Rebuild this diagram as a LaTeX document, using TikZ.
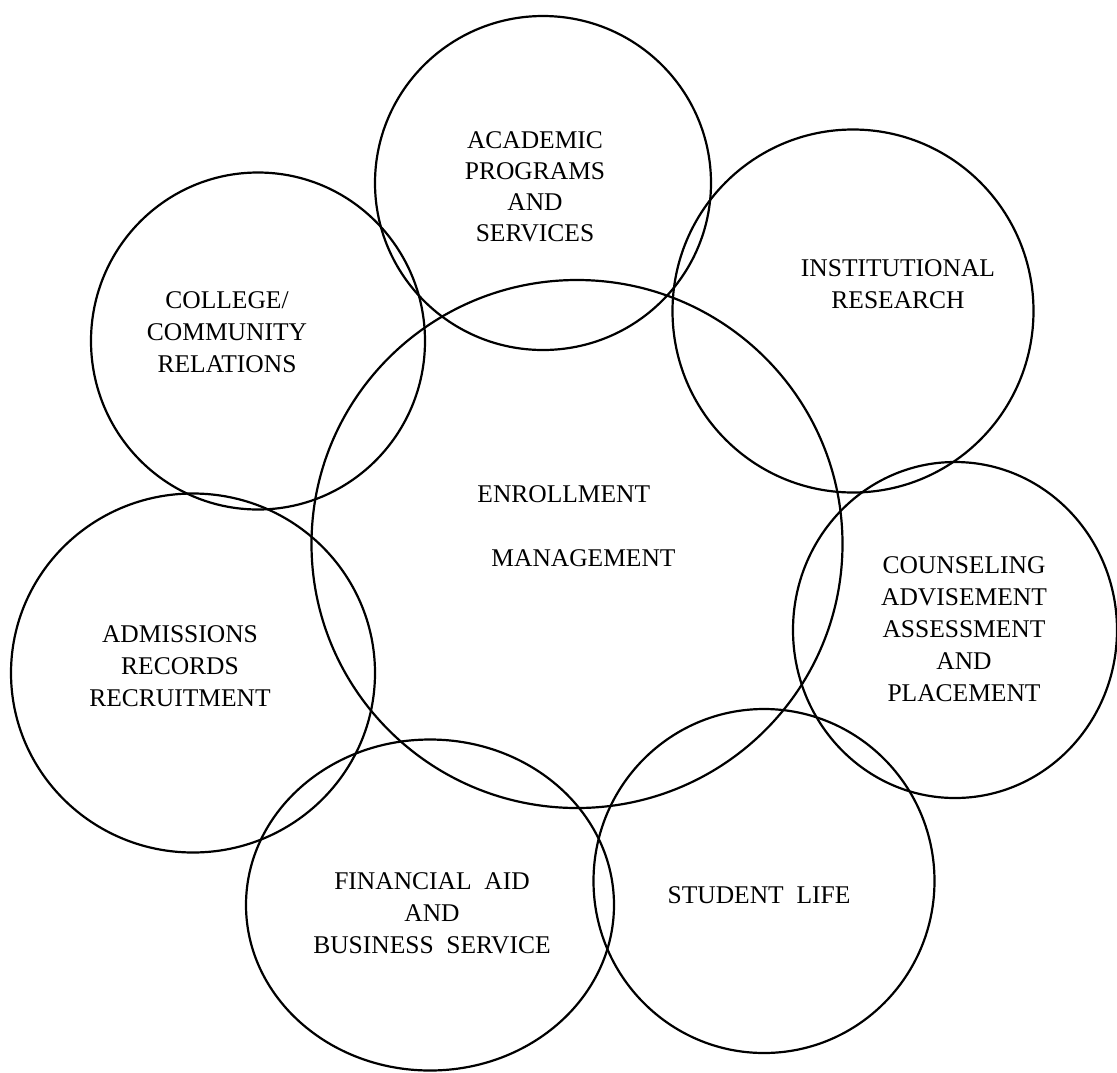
\documentclass[tikz,border=0pt]{standalone}
\usepackage{fontspec}
\setmainfont{Liberation Serif}
\usetikzlibrary{shapes.geometric}
\begin{document}
\begin{tikzpicture}[x=1pt,y=-1pt,
  area/.style={draw, ellipse, line width=2.2pt, inner sep=0pt, outer sep=0pt},
  lbl/.style={inner sep=0pt, align=center, font=\fontsize{25.5}{32}\selectfont}]
\useasboundingbox (0,0) rectangle (1117,1072);
% circles
\node[area, minimum width=531pt, minimum height=528pt] (em)    at (577,544) {};
\node[area, minimum width=336pt, minimum height=334pt] (acad)  at (543,183) {};
\node[area, minimum width=361pt, minimum height=363pt] (inst)  at (853,311) {};
\node[area, minimum width=334pt, minimum height=337pt] (coll)  at (258,341) {};
\node[area, minimum width=364pt, minimum height=359pt] (adm)   at (193,673) {};
\node[area, minimum width=368pt, minimum height=331pt] (fin)   at (430,905) {};
\node[area, minimum width=341pt, minimum height=344pt] (stud)  at (764,881) {};
\node[area, minimum width=324pt, minimum height=336pt] (couns) at (955,630) {};
% labels
\node[lbl, font=\fontsize{25.5}{31}\selectfont] (acadt) at (535,186.5) {ACADEMIC\\PROGRAMS\\AND\\SERVICES};
\node[lbl] (collt) at (227,332.5) {COLLEGE/\\COMMUNITY\\RELATIONS};
\node[lbl] (instt) at (898,284.5) {INSTITUTIONAL\\RESEARCH};
\node[lbl, align=left] (emt) at (576.5,526) {ENROLLMENT\\[32pt]\hspace*{14pt}MANAGEMENT};
\node[lbl] (admt) at (180,666) {ADMISSIONS\\RECORDS\\RECRUITMENT};
\node[lbl] (fint) at (432,913) {FINANCIAL\hspace{0.5em}AID\\AND\\BUSINESS\hspace{0.5em}SERVICE};
\node[lbl] (studt) at (759,895) {STUDENT\hspace{0.5em}LIFE};
\node[lbl] (counst) at (964,629.5) {COUNSELING\\ADVISEMENT\\ASSESSMENT\\AND\\PLACEMENT};
\end{tikzpicture}
\end{document}
